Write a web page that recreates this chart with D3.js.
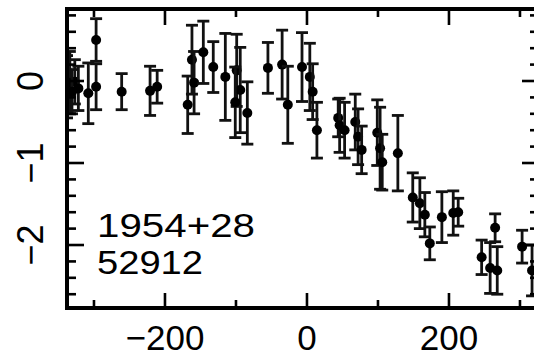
<!DOCTYPE html>
<html><head><meta charset="utf-8">
<script src="https://cdn.jsdelivr.net/npm/d3@7"></script>
<style>html,body{margin:0;padding:0;background:#fff;}svg{display:block;}</style>
</head><body>
<script>
// Data
const phase = [-338,-334,-327,-322,-331,-308,-297,-297,-261,-221,-211,-168,-162,-159,-146,-132,-115,-99,-94,-101,-84,-55,-35,-27,-7,4,8,14,44,46,53,68,72,77,99,103,106,128,149,159,166,173,190,206,213,246,258,265,268,303,317];
const pa    = [-0.07,-0.02,-0.01,-0.09,-0.13,-0.15,0.50,-0.07,-0.13,-0.12,-0.07,-0.29,0.26,-0.02,0.35,0.17,0.05,0.13,-0.11,-0.26,-0.39,0.16,0.20,-0.29,0.17,0.05,-0.13,-0.60,-0.45,-0.54,-0.60,-0.50,-0.68,-0.84,-0.63,-0.82,-0.99,-0.88,-1.42,-1.49,-1.63,-1.98,-1.66,-1.61,-1.60,-2.15,-2.28,-1.79,-2.31,-2.02,-2.31];
const paErr = [0.38,0.38,0.27,0.27,0.27,0.37,0.26,0.28,0.22,0.30,0.20,0.35,0.42,0.38,0.38,0.31,0.53,0.44,0.52,0.43,0.38,0.31,0.42,0.47,0.42,0.41,0.34,0.34,0.23,0.33,0.34,0.34,0.34,0.29,0.40,0.50,0.34,0.46,0.30,0.31,0.27,0.20,0.31,0.27,0.17,0.21,0.31,0.17,0.29,0.20,0.31];
const xMajor = [-200, 0, 200];
const xMinor = [-300, -100, 100, 300];
const yMajor = [0, -1, -2];
const yMinor = [0.8,0.6,0.4,0.2,-0.2,-0.4,-0.6,-0.8,-1.2,-1.4,-1.6,-1.8,-2.2,-2.4,-2.6];
const labelLines = ["1954+28", "52912"];

const W = 534, H = 359;
const L = 67, R = 539, T = 9, B = 308;
const x = d3.scaleLinear().domain([-338, 326.8]).range([L, R]);
const y = d3.scaleLinear().domain([-2.768, 0.878]).range([B, T]);

const svg = d3.select("body").append("svg").attr("width", W).attr("height", H);
const font = "'Liberation Sans', Arial, Helvetica, sans-serif";

svg.append("clipPath").attr("id","clip").append("rect").attr("x",L).attr("y",T).attr("width",R-L).attr("height",B-T);

const g = svg.append("g").attr("clip-path","url(#clip)");
const pts = phase.map((p,i)=>({x:p,y:pa[i],e:paErr[i]}));
const cap = 6;
const sw = 2.8;
pts.forEach(d=>{
  const cx = x(d.x), y1 = y(d.y + d.e), y2 = y(d.y - d.e);
  g.append("line").attr("x1",cx).attr("x2",cx).attr("y1",y1).attr("y2",y2).attr("stroke","#111").attr("stroke-width",sw);
  g.append("line").attr("x1",cx-cap).attr("x2",cx+cap).attr("y1",y1).attr("y2",y1).attr("stroke","#111").attr("stroke-width",sw);
  g.append("line").attr("x1",cx-cap).attr("x2",cx+cap).attr("y1",y2).attr("y2",y2).attr("stroke","#111").attr("stroke-width",sw);
  g.append("circle").attr("cx",cx).attr("cy",y(d.y)).attr("r",5).attr("fill","#000");
});

// Frame
svg.append("rect").attr("x",L).attr("y",T).attr("width",R-L).attr("height",B-T)
  .attr("fill","none").attr("stroke","#000").attr("stroke-width",4);

const ax = svg.append("g").attr("stroke","#000").attr("stroke-width",2.6);
xMajor.forEach(v=>{
  ax.append("line").attr("x1",x(v)).attr("x2",x(v)).attr("y1",B).attr("y2",B-15);
  ax.append("line").attr("x1",x(v)).attr("x2",x(v)).attr("y1",T).attr("y2",T+16);
});
xMinor.forEach(v=>{
  ax.append("line").attr("x1",x(v)).attr("x2",x(v)).attr("y1",B).attr("y2",B-8);
  ax.append("line").attr("x1",x(v)).attr("x2",x(v)).attr("y1",T).attr("y2",T+8);
});
yMajor.forEach(v=>{
  ax.append("line").attr("x1",L).attr("x2",L+17).attr("y1",y(v)).attr("y2",y(v));
  ax.append("line").attr("x1",R).attr("x2",R-17).attr("y1",y(v)).attr("y2",y(v));
});
yMinor.forEach(v=>{
  ax.append("line").attr("x1",L).attr("x2",L+9).attr("y1",y(v)).attr("y2",y(v));
  ax.append("line").attr("x1",R).attr("x2",R-9).attr("y1",y(v)).attr("y2",y(v));
});

const fmt = v => (v < 0 ? "\u2212" + Math.abs(v) : String(v));
xMajor.forEach(v=>{
  svg.append("text").attr("x",x(v)).attr("y",350).attr("text-anchor","middle")
    .attr("font-family",font).attr("font-size",35).attr("fill","#000").text(fmt(v));
});
yMajor.forEach(v=>{
  svg.append("text").attr("transform",`translate(43,${y(v)}) rotate(-90)`).attr("text-anchor","middle")
    .attr("font-family",font).attr("font-size",36).attr("fill","#000").text(fmt(v));
});

svg.append("text").attr("x",97).attr("y",237).attr("font-family",font).attr("font-size",33)
  .attr("textLength",158).attr("lengthAdjust","spacingAndGlyphs").text(labelLines[0]);
svg.append("text").attr("x",97).attr("y",274).attr("font-family",font).attr("font-size",33)
  .attr("textLength",106).attr("lengthAdjust","spacingAndGlyphs").text(labelLines[1]);
</script>
</body></html>
